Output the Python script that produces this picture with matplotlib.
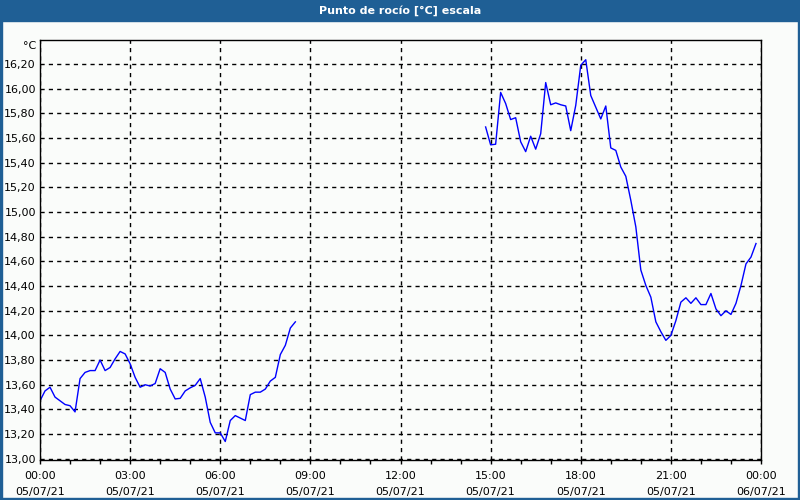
import matplotlib.pyplot as plt
import numpy as np

# punto de rocio, muestras cada 10 minutos (horas desde 05/07/21 00:00)
inicio1 = 0.0
valores1 = [13.47, 13.55, 13.58, 13.50, 13.47, 13.44, 13.43, 13.38, 13.65, 13.70,
            13.715, 13.715, 13.80, 13.715, 13.74, 13.81, 13.87, 13.85, 13.77, 13.66,
            13.58, 13.60, 13.59, 13.61, 13.73, 13.70, 13.565, 13.485, 13.49, 13.55,
            13.575, 13.595, 13.65, 13.50, 13.295, 13.21, 13.21, 13.14, 13.31, 13.35,
            13.33, 13.31, 13.52, 13.54, 13.54, 13.565, 13.63, 13.66, 13.845, 13.92,
            14.06, 14.11]

inicio2 = 14 + 50 / 60
valores2 = [15.69, 15.545, 15.55, 15.97, 15.88, 15.75, 15.765, 15.57, 15.49, 15.615,
            15.51, 15.635, 16.05, 15.87, 15.885, 15.87, 15.86, 15.66, 15.865, 16.19,
            16.235, 15.945, 15.85, 15.755, 15.86, 15.52, 15.50, 15.365, 15.29, 15.095,
            14.88, 14.53, 14.405, 14.31, 14.11, 14.03, 13.96, 14.00, 14.12, 14.27,
            14.305, 14.26, 14.305, 14.25, 14.25, 14.34, 14.215, 14.16, 14.20, 14.17,
            14.26, 14.405, 14.58, 14.635, 14.745]

horas_ticks = [0, 3, 6, 9, 12, 15, 18, 21, 24]
etiquetas_x = ['00:00\n05/07/21', '03:00\n05/07/21', '06:00\n05/07/21', '09:00\n05/07/21',
               '12:00\n05/07/21', '15:00\n05/07/21', '18:00\n05/07/21', '21:00\n05/07/21',
               '00:00\n06/07/21']
valores_y = [13.0, 13.2, 13.4, 13.6, 13.8, 14.0, 14.2, 14.4, 14.6, 14.8,
             15.0, 15.2, 15.4, 15.6, 15.8, 16.0, 16.2]

paso = 10 / 60
t1 = inicio1 + np.arange(len(valores1)) * paso
t2 = inicio2 + np.arange(len(valores2)) * paso

AZUL = '#1F5F95'
FONDO = '#FAFCFA'

plt.rcParams['font.family'] = ['DejaVu Sans']
fig = plt.figure(figsize=(8, 5), dpi=100, facecolor=FONDO)

# barra de titulo y bordes
fig.patches.append(plt.Rectangle((0, 1 - 21 / 500), 1, 21 / 500, transform=fig.transFigure,
                                 color=AZUL, zorder=0))
fig.patches.append(plt.Rectangle((0, 0), 2 / 800, 1, transform=fig.transFigure, color=AZUL))
fig.patches.append(plt.Rectangle((1 - 2 / 800, 0), 2 / 800, 1, transform=fig.transFigure, color=AZUL))
fig.patches.append(plt.Rectangle((0, 0), 1, 2 / 500, transform=fig.transFigure, color=AZUL))
fig.text(0.5, 1 - 10.5 / 500, 'Punto de rocío [°C] escala', color='white', fontsize=8,
         fontweight='bold', ha='center', va='center')

ax = fig.add_axes([40 / 800, 40 / 500, 721 / 800, 420 / 500])
ax.set_facecolor(FONDO)
ax.plot(t1, valores1, color='#0000FF', lw=1)
ax.plot(t2, valores2, color='#0000FF', lw=1)

ax.set_xlim(0, 24)
ax.set_ylim(12.99, 16.395)
ax.set_xticks(horas_ticks)
ax.set_xticklabels(etiquetas_x, fontsize=8, linespacing=1.75)
ax.set_xticks(np.arange(0, 25, 1), minor=True)
ax.set_yticks(valores_y)
ax.set_yticklabels([f'{v:.2f}'.replace('.', ',') for v in valores_y], fontsize=8)
ax.tick_params(axis='x', which='both', direction='out', length=3, width=1, pad=5, color='black')
ax.tick_params(axis='y', length=0, pad=3)
ax.grid(True, which='major', color='black', linestyle=(0, (3, 3)), lw=1)
for s in ax.spines.values():
    s.set_color('black')
    s.set_linewidth(1)

ax.text(-0.005, 0.986, '°C', transform=ax.transAxes, ha='right', va='center', fontsize=8)

fig.savefig('out.png', dpi=100, facecolor=FONDO)
